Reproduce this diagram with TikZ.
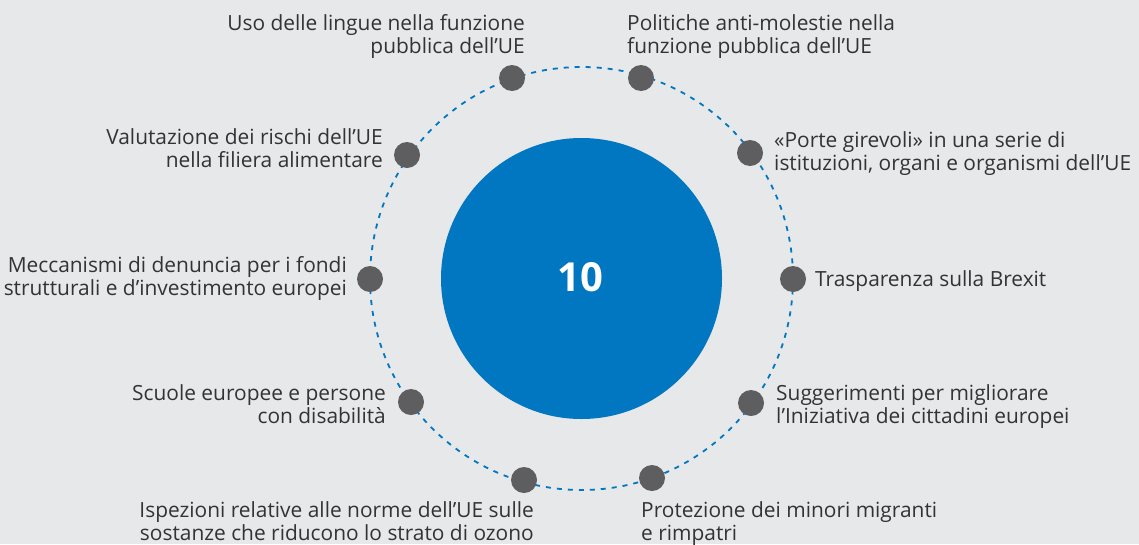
\documentclass[tikz,border=0pt]{standalone}
\usepackage{fontspec}
\setmainfont{Open Sans}
\definecolor{bg}{HTML}{E7E8EA}
\definecolor{hubblue}{HTML}{0077C0}
\definecolor{dotgrey}{HTML}{5E5E60}
\definecolor{txt}{HTML}{333333}
\tikzset{
  hubcircle/.style={circle, fill=hubblue, draw=none, minimum size=281pt, inner sep=0pt},
  hubnum/.style={text=white, font=\fontsize{40}{44}\selectfont\bfseries, inner sep=0pt},
  ring/.style={draw=hubblue, line width=1.8pt, dash pattern=on 5pt off 6pt},
  dotnode/.style={circle, fill=dotgrey, draw=none, minimum size=26pt, inner sep=0pt},
  lbl/.style={text=txt, font=\fontsize{20.9}{23}\selectfont, inner sep=0pt},
  lblR/.style={lbl, align=right},
  lblL/.style={lbl, align=left}
}
\begin{document}
\begin{tikzpicture}[x=1pt,y=-1pt]
\fill[bg] (0,0) rectangle (1139,544);
\useasboundingbox (0,0) rectangle (1139,544);
\coordinate (c) at (581.5,278.5);
\node[hubcircle] (hub) at (c) {};
\draw[ring] (c) circle[radius=211.5];
\node[hubnum] (num) at (580,277.5) {10};
% dots
\node[dotnode] (d1) at (512,78) {};
\node[dotnode] (d2) at (641,78) {};
\node[dotnode] (d3) at (750,153) {};
\node[dotnode] (d4) at (793,279) {};
\node[dotnode] (d5) at (751,403) {};
\node[dotnode] (d6) at (652,478) {};
\node[dotnode] (d7) at (524,480) {};
\node[dotnode] (d8) at (411,402) {};
\node[dotnode] (d9) at (370,279) {};
\node[dotnode] (d10) at (407,155) {};
% labels (base anchor = baseline of last line)
\node[lblR, anchor=base east] (t1) at (525,53) {Uso delle lingue nella funzione\\pubblica dell'UE};
\node[lblL, anchor=base west] (t2) at (627,53) {Politiche anti-molestie nella\\funzione pubblica dell'UE};
\node[lblL, anchor=base west] (t3) at (774,170) {«Porte girevoli» in una serie di\\istituzioni, organi e organismi dell'UE};
\node[lblL, anchor=base west] (t4) at (815,286) {Trasparenza sulla Brexit};
\node[lblL, anchor=base west] (t5) at (776,423) {Suggerimenti per migliorare\\l'Iniziativa dei cittadini europei};
\node[lblL, anchor=base west] (t6) at (641,540) {Protezione dei minori migranti\\e rimpatri};
\node[lblR, anchor=base east] (t7) at (534,540) {Ispezioni relative alle norme dell'UE sulle\\sostanze che riducono lo strato di ozono};
\node[lblR, anchor=base east] (t8) at (386,423) {Scuole europee e persone\\con disabilità};
\node[lblR, anchor=base east] (t9) at (347,295) {Meccanismi di denuncia per i fondi\\strutturali e d'investimento europei};
\node[lblR, anchor=base east] (t10) at (383,167) {Valutazione dei rischi dell'UE\\nella filiera alimentare};
\end{tikzpicture}
\end{document}
